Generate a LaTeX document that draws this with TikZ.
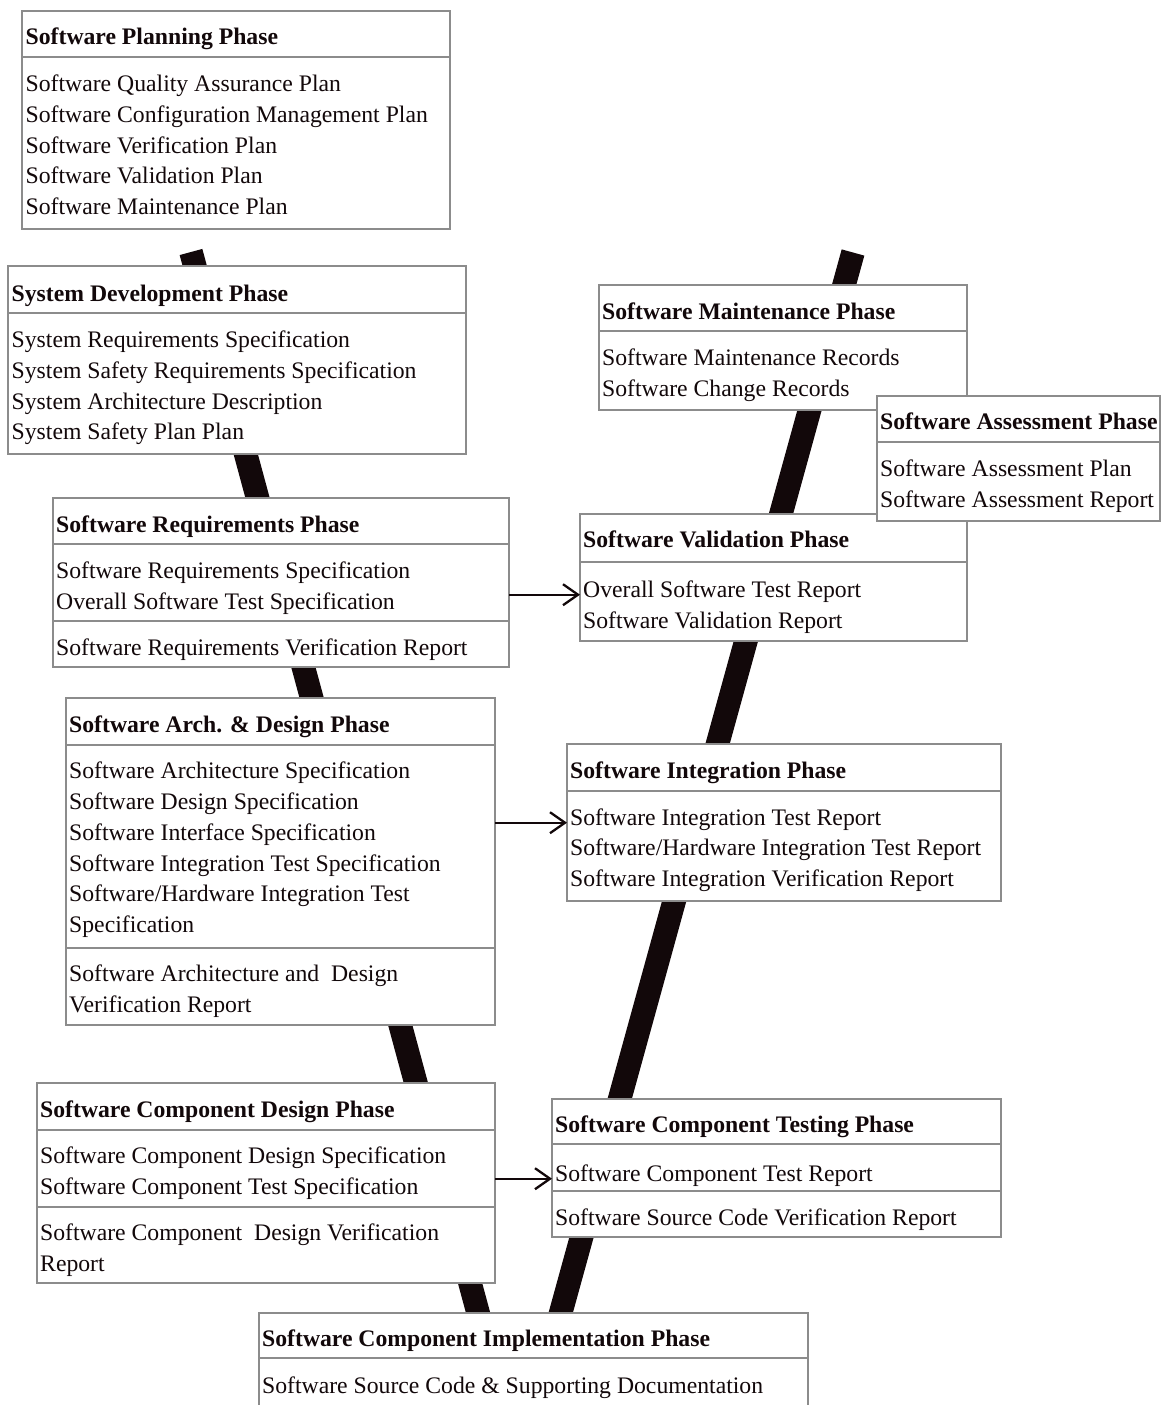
\documentclass[tikz,border=0pt]{standalone}
\usepackage{fontspec}
\setmainfont{Liberation Serif}
\usetikzlibrary{arrows.meta}
\definecolor{boxgray}{RGB}{140,140,140}
\definecolor{ink}{RGB}{18,8,10}

\begin{document}
\begin{tikzpicture}[x=1pt,y=-1pt,
  phasebox/.style={draw=boxgray, fill=white, line width=1.2pt, inner sep=0pt,
                   outer sep=0pt, anchor=north west},
  headtext/.style={font=\fontsize{23.7}{29}\selectfont\bfseries, text=ink,
                   anchor=base west, inner sep=0pt},
  itemtext/.style={font=\fontsize{23.7}{29}\selectfont, text=ink,
                   anchor=base west, inner sep=0pt},
  rule/.style={draw=boxgray, line width=1.2pt},
  vband/.style={draw=ink, line width=23.5pt, line join=miter},
  flow/.style={draw=ink, line width=2.3pt, -{Straight Barb[length=15pt,width=21pt]}}]

\useasboundingbox (0,0) rectangle (1165,1405);
\clip (0,0) rectangle (1165,1405);
\fill[white] (0,0) rectangle (1165,1405);

% the V behind all phases
\coordinate (vleft) at (191,252);
\coordinate (vright) at (853,252.5);
\coordinate (vtip) at (519,1464);
\draw[vband] (vleft) -- (vtip) -- (vright);

% ---- Software Planning Phase
\node[phasebox, minimum width=428pt, minimum height=218pt] (plan) at (22,11) {};
\node[headtext] (planH) at (25.5,45) {Software Planning Phase};
\draw[rule] (plan.west |- 0,57) -- (plan.east |- 0,57);
\node[itemtext] (planA) at (25.5,91)  {Software Quality Assurance Plan};
\node[itemtext] (planB) at (25.5,122) {Software Configuration Management Plan};
\node[itemtext] (planC) at (25.5,153) {Software Verification Plan};
\node[itemtext] (planD) at (25.5,183) {Software Validation Plan};
\node[itemtext] (planE) at (25.5,214) {Software Maintenance Plan};

% ---- System Development Phase
\node[phasebox, minimum width=458pt, minimum height=188pt] (sys) at (8,266) {};
\node[headtext] (sysH) at (11.5,301) {System Development Phase};
\draw[rule] (sys.west |- 0,313) -- (sys.east |- 0,313);
\node[itemtext] (sysA) at (11.5,347) {System Requirements Specification};
\node[itemtext] (sysB) at (11.5,378) {System Safety Requirements Specification};
\node[itemtext] (sysC) at (11.5,409) {System Architecture Description};
\node[itemtext] (sysD) at (11.5,439) {System Safety Plan Plan};

% ---- Software Requirements Phase
\node[phasebox, minimum width=456pt, minimum height=169pt] (req) at (53,498) {};
\node[headtext] (reqH) at (56,532) {Software Requirements Phase};
\draw[rule] (req.west |- 0,544) -- (req.east |- 0,544);
\node[itemtext] (reqA) at (56,578) {Software Requirements Specification};
\node[itemtext] (reqB) at (56,609) {Overall Software Test Specification};
\draw[rule] (req.west |- 0,621) -- (req.east |- 0,621);
\node[itemtext] (reqC) at (56,655) {Software Requirements Verification Report};

% ---- Software Arch. & Design Phase
\node[phasebox, minimum width=429pt, minimum height=327pt] (arch) at (66,698) {};
\node[headtext] (archH) at (69,732) {Software Arch. \& Design Phase};
\draw[rule] (arch.west |- 0,745) -- (arch.east |- 0,745);
\node[itemtext] (archA) at (69,778)  {Software Architecture Specification};
\node[itemtext] (archB) at (69,809)  {Software Design Specification};
\node[itemtext] (archC) at (69,840)  {Software Interface Specification};
\node[itemtext] (archD) at (69,871)  {Software Integration Test Specification};
\node[itemtext] (archE) at (69,901)  {Software/Hardware Integration Test};
\node[itemtext] (archF) at (69,932)  {Specification};
\draw[rule] (arch.west |- 0,948) -- (arch.east |- 0,948);
\node[itemtext] (archG) at (69,981)  {Software Architecture and\ \ Design};
\node[itemtext] (archI) at (69,1012) {Verification Report};

% ---- Software Component Design Phase
\node[phasebox, minimum width=458pt, minimum height=200pt] (cdes) at (37,1083) {};
\node[headtext] (cdesH) at (40,1117) {Software Component Design Phase};
\draw[rule] (cdes.west |- 0,1130) -- (cdes.east |- 0,1130);
\node[itemtext] (cdesA) at (40,1163) {Software Component Design Specification};
\node[itemtext] (cdesB) at (40,1194) {Software Component Test Specification};
\draw[rule] (cdes.west |- 0,1207) -- (cdes.east |- 0,1207);
\node[itemtext] (cdesC) at (40,1240) {Software Component\ \ Design Verification};
\node[itemtext] (cdesD) at (40,1271) {Report};

% ---- Software Component Implementation Phase
\node[phasebox, minimum width=549pt, minimum height=130pt] (impl) at (259,1313) {};
\node[headtext] (implH) at (262,1346) {Software Component Implementation Phase};
\draw[rule] (impl.west |- 0,1358) -- (impl.east |- 0,1358);
\node[itemtext] (implA) at (262,1393) {Software Source Code \& Supporting Documentation};

% ---- Software Component Testing Phase
\node[phasebox, minimum width=449pt, minimum height=138pt] (ctest) at (552,1099) {};
\node[headtext] (ctestH) at (555,1132) {Software Component Testing Phase};
\draw[rule] (ctest.west |- 0,1144) -- (ctest.east |- 0,1144);
\node[itemtext] (ctestA) at (555,1181) {Software Component Test Report};
\draw[rule] (ctest.west |- 0,1191) -- (ctest.east |- 0,1191);
\node[itemtext] (ctestB) at (555,1225) {Software Source Code Verification Report};

% ---- Software Integration Phase
\node[phasebox, minimum width=434pt, minimum height=157pt] (integ) at (567,744) {};
\node[headtext] (integH) at (570,778) {Software Integration Phase};
\draw[rule] (integ.west |- 0,791) -- (integ.east |- 0,791);
\node[itemtext] (integA) at (570,825) {Software Integration Test Report};
\node[itemtext] (integB) at (570,855) {Software/Hardware Integration Test Report};
\node[itemtext] (integC) at (570,886) {Software Integration Verification Report};

% ---- Software Validation Phase
\node[phasebox, minimum width=387pt, minimum height=127pt] (valid) at (580,514) {};
\node[headtext] (validH) at (583,547) {Software Validation Phase};
\draw[rule] (valid.west |- 0,562) -- (valid.east |- 0,562);
\node[itemtext] (validA) at (583,597) {Overall Software Test Report};
\node[itemtext] (validB) at (583,628) {Software Validation Report};

% ---- Software Maintenance Phase
\node[phasebox, minimum width=368pt, minimum height=125pt] (maint) at (599,285) {};
\node[headtext] (maintH) at (602,319) {Software Maintenance Phase};
\draw[rule] (maint.west |- 0,331) -- (maint.east |- 0,331);
\node[itemtext] (maintA) at (602,365) {Software Maintenance Records};
\node[itemtext] (maintB) at (602,396) {Software Change Records};

% ---- Software Assessment Phase (lies over its neighbours)
\node[phasebox, minimum width=283pt, minimum height=125pt] (assess) at (877,396) {};
\node[headtext] (assessH) at (880,429) {Software Assessment Phase};
\draw[rule] (assess.west |- 0,442) -- (assess.east |- 0,442);
\node[itemtext] (assessA) at (880,476) {Software Assessment Plan};
\node[itemtext] (assessB) at (880,507) {Software Assessment Report};

% ---- hand-over arrows
\draw[flow] (req.east |- validA.mid) -- (valid.west |- validA.mid);
\draw[flow] (arch.east |- integA.mid) -- (integ.west |- integA.mid);
\draw[flow] (cdes.east |- ctestA.mid) -- (ctest.west |- ctestA.mid);

\end{tikzpicture}
\end{document}
